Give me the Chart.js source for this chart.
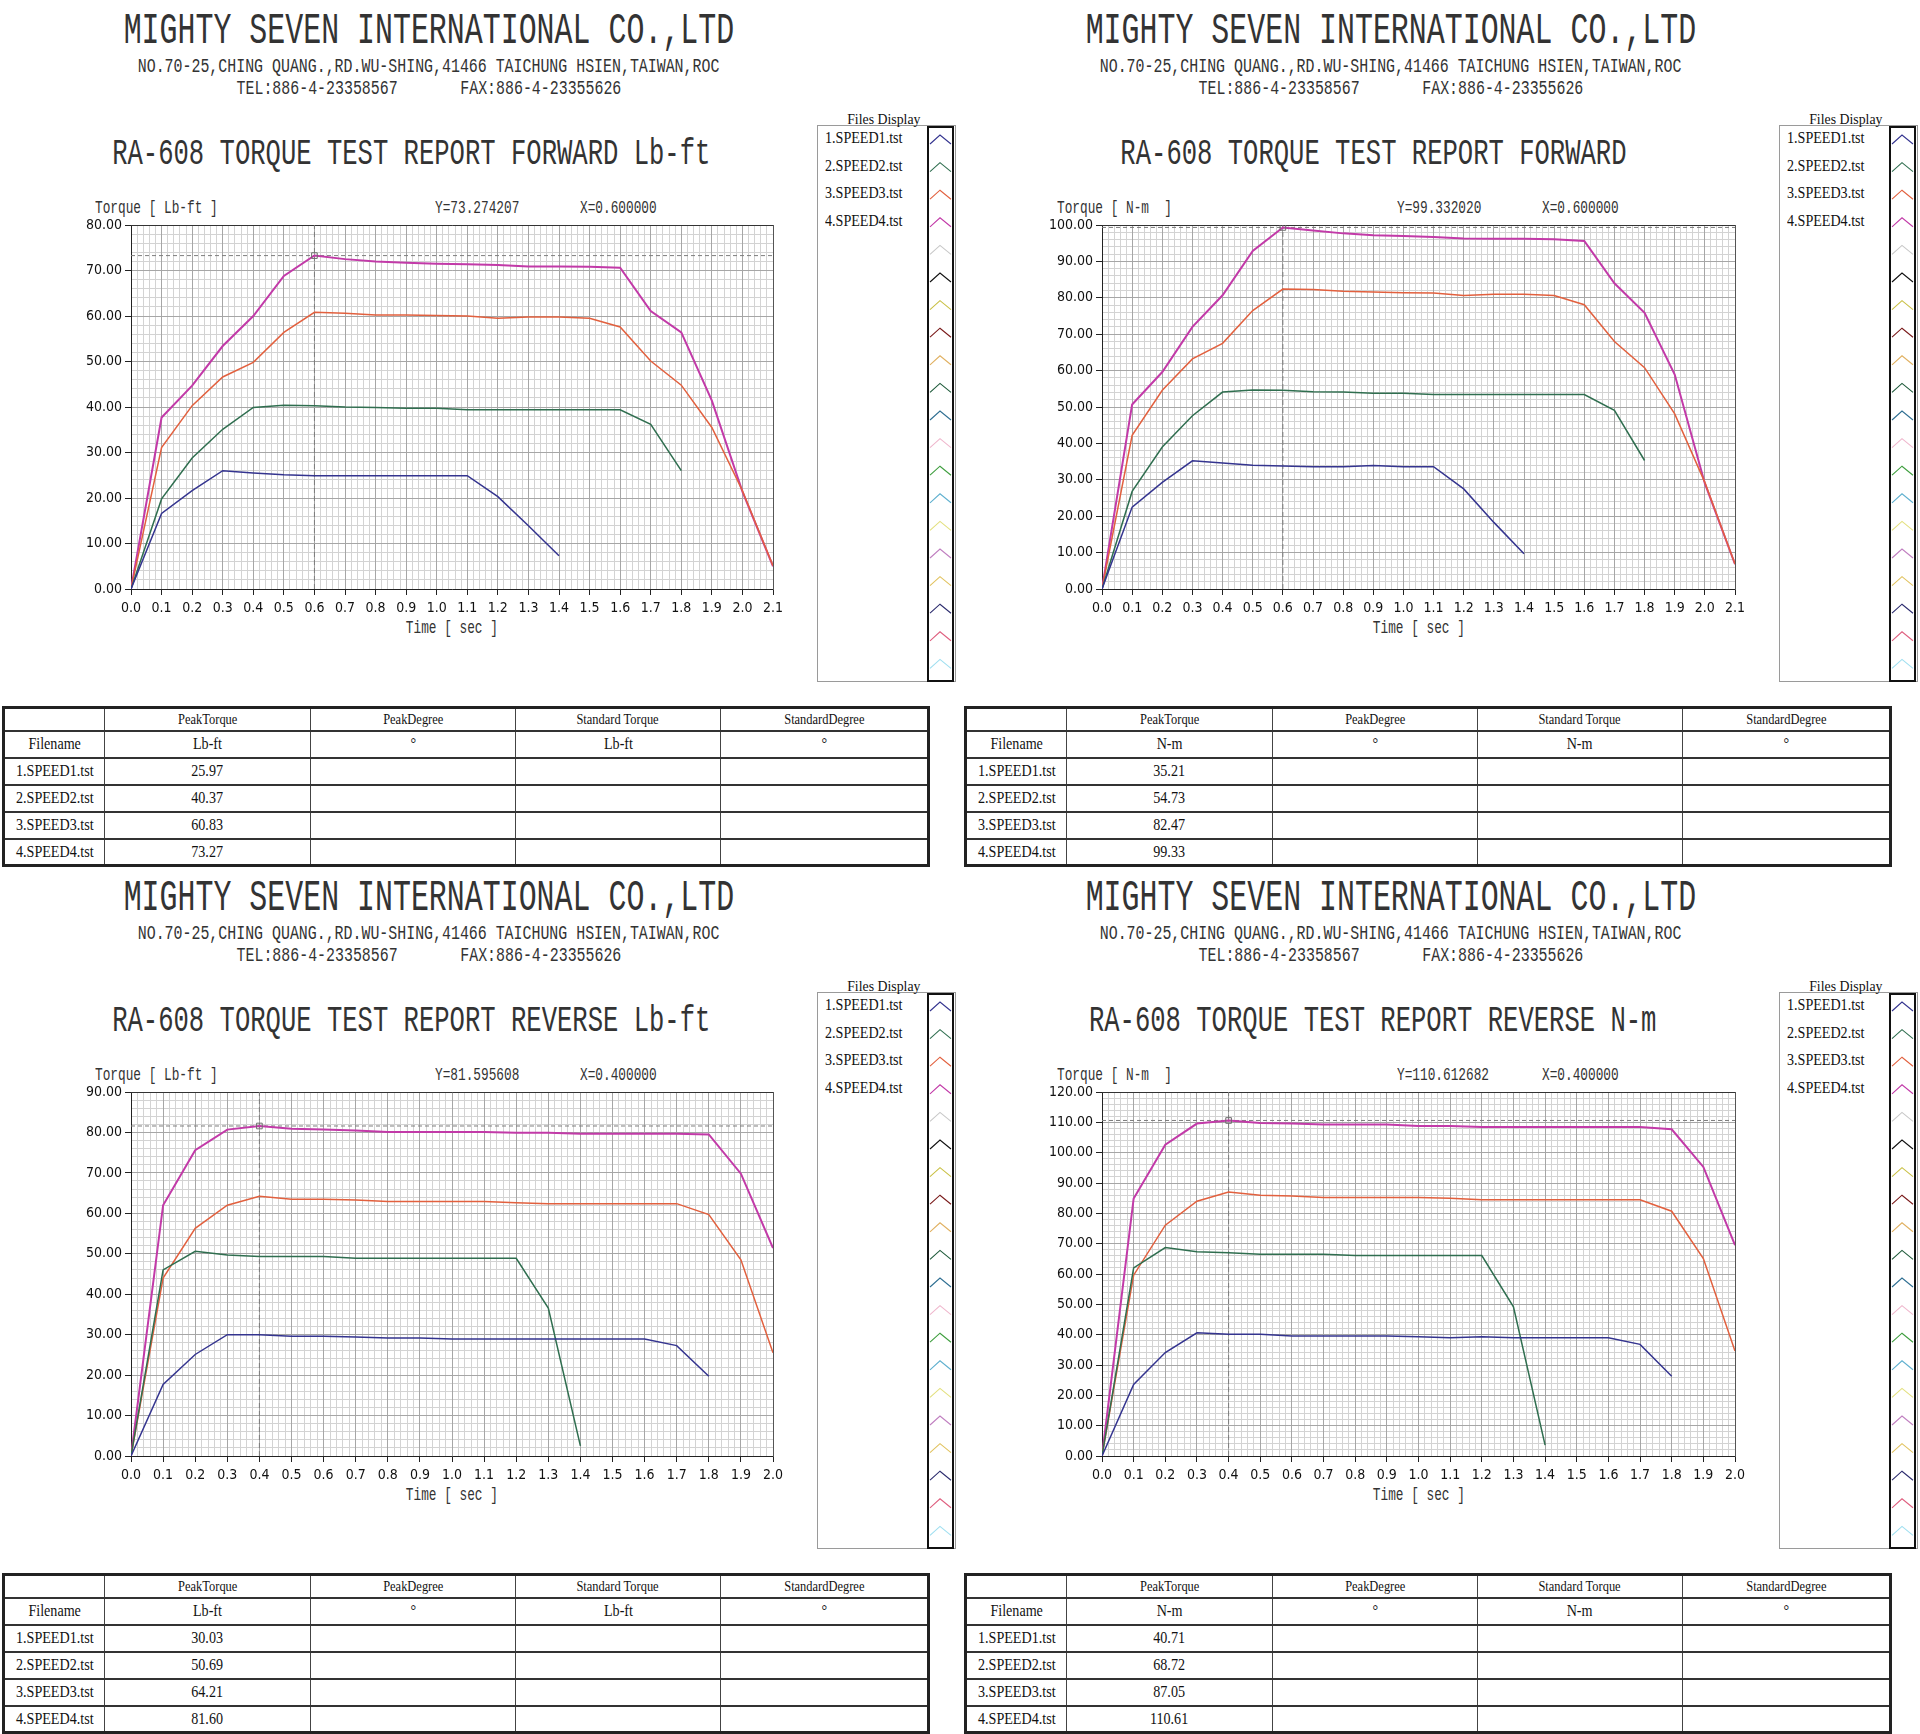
<!DOCTYPE html>
<html>
<head>
<meta charset="utf-8">
<script src="https://cdn.jsdelivr.net/npm/chart.js@4.4.1/dist/chart.umd.min.js"></script>
<style>
body { margin: 0; background: #fff; }
#page { position: relative; width: 1920px; height: 1734px; overflow: hidden; background: #fff; }
.panel { position: absolute; width: 962px; height: 867px; }
.t { position: absolute; white-space: pre; color: #2a2a2a; line-height: 1; }
.t span { display: inline-block; }
.mono { font-family: 'Liberation Mono', 'DejaVu Sans Mono', monospace; color: #333; }
.serif { font-family: 'Liberation Serif', 'DejaVu Serif', serif; color: #111; }
canvas { position: absolute; }
.legend { position: absolute; border: 1px solid #9a9a9a; background: #fff; }
.legcol { position: absolute; border: 2px solid #111; }
table { position: absolute; border-collapse: collapse; border: 3px solid #222; table-layout: fixed; }
td { border-left: 1px solid #444; border-right: 1px solid #444; border-top: 2px solid #333; border-bottom: 2px solid #333;
     padding: 0; text-align: center; font-family: 'Liberation Serif', serif; font-size: 17px; color: #111; overflow: hidden; }
td span { display: inline-block; transform: scaleX(0.83); }
</style>
</head>
<body>
<div id="page"></div>
<script>
// time axis (sec)
const fwdTime = [0.0, 0.1, 0.2, 0.3, 0.4, 0.5, 0.6, 0.7, 0.8, 0.9, 1.0, 1.1, 1.2, 1.3, 1.4, 1.5, 1.6, 1.7, 1.8, 1.9, 2.0, 2.1];
const revTime = [0.0, 0.1, 0.2, 0.3, 0.4, 0.5, 0.6, 0.7, 0.8, 0.9, 1.0, 1.1, 1.2, 1.3, 1.4, 1.5, 1.6, 1.7, 1.8, 1.9, 2.0];

// forward, Lb-ft
const fwdLbSpeed1 = [0, 16.6, 21.6, 26.0, 25.5, 25.1, 24.9, 24.9, 24.9, 24.9, 24.9, 24.9, 20.3, 13.9, 7.3];
const fwdLbSpeed2 = [0, 19.8, 28.8, 35.1, 39.9, 40.4, 40.3, 40.0, 39.9, 39.7, 39.7, 39.4, 39.4, 39.4, 39.4, 39.4, 39.4, 36.2, 26.0];
const fwdLbSpeed3 = [0, 31.1, 40.3, 46.6, 49.8, 56.4, 60.8, 60.6, 60.2, 60.2, 60.1, 60.0, 59.5, 59.8, 59.8, 59.5, 57.6, 50.1, 44.8, 35.5, 21.6, 5.1];
const fwdLbSpeed4 = [0, 37.7, 44.7, 53.4, 60.0, 68.8, 73.3, 72.5, 72.0, 71.7, 71.5, 71.4, 71.2, 70.9, 70.9, 70.8, 70.6, 61.1, 56.4, 41.4, 21.4, 5.0];

// forward, N-m
const fwdNmSpeed1 = [0, 22.5, 29.3, 35.2, 34.6, 34.0, 33.8, 33.6, 33.6, 33.9, 33.6, 33.6, 27.5, 18.3, 9.7];
const fwdNmSpeed2 = [0, 26.8, 39.0, 47.6, 54.1, 54.7, 54.6, 54.2, 54.1, 53.8, 53.8, 53.4, 53.4, 53.4, 53.4, 53.4, 53.4, 49.1, 35.3];
const fwdNmSpeed3 = [0, 42.2, 54.6, 63.2, 67.5, 76.5, 82.4, 82.3, 81.8, 81.6, 81.4, 81.3, 80.6, 81.0, 81.0, 80.6, 78.1, 68.0, 60.8, 48.1, 29.3, 6.9];
const fwdNmSpeed4 = [0, 50.7, 59.6, 72.0, 80.7, 92.9, 99.3, 98.5, 97.7, 97.2, 97.0, 96.7, 96.3, 96.2, 96.2, 96.1, 95.6, 84.0, 75.9, 58.9, 29.0, 6.8];

// reverse, Lb-ft
const revLbSpeed1 = [0, 17.7, 25.1, 30.0, 30.0, 29.6, 29.6, 29.4, 29.2, 29.2, 28.9, 28.9, 28.9, 28.9, 28.9, 28.9, 28.9, 27.3, 19.7];
const revLbSpeed2 = [0, 46.0, 50.6, 49.7, 49.3, 49.3, 49.3, 48.9, 48.9, 48.9, 48.9, 48.9, 48.9, 36.6, 2.5];
const revLbSpeed3 = [0, 44.0, 56.3, 62.0, 64.2, 63.5, 63.5, 63.3, 62.9, 62.9, 62.9, 62.9, 62.6, 62.4, 62.4, 62.4, 62.4, 62.4, 59.7, 48.5, 25.5];
const revLbSpeed4 = [0, 62.0, 75.6, 80.7, 81.6, 80.9, 80.7, 80.5, 80.1, 80.1, 80.1, 80.1, 79.9, 79.9, 79.7, 79.7, 79.7, 79.7, 79.5, 69.8, 51.4];

// reverse, N-m
const revNmSpeed1 = [0, 23.6, 34.1, 40.6, 40.1, 40.1, 39.6, 39.6, 39.6, 39.6, 39.3, 39.0, 39.3, 39.0, 39.0, 39.0, 39.0, 36.8, 26.3];
const revNmSpeed2 = [0, 62.0, 68.7, 67.3, 67.0, 66.5, 66.5, 66.5, 66.1, 66.1, 66.1, 66.1, 66.1, 49.2, 3.6];
const revNmSpeed3 = [0, 59.6, 76.1, 84.0, 87.0, 86.0, 85.7, 85.2, 85.2, 85.2, 85.2, 85.0, 84.5, 84.5, 84.5, 84.5, 84.5, 84.5, 80.7, 65.1, 34.6];
const revNmSpeed4 = [0, 84.9, 102.6, 109.6, 110.6, 109.8, 109.6, 109.3, 109.3, 109.3, 108.8, 108.8, 108.5, 108.5, 108.5, 108.5, 108.5, 108.5, 107.7, 95.3, 69.5];

// peak torque table values
const fwdLbPeak = [25.97, 40.37, 60.83, 73.27];
const fwdNmPeak = [35.21, 54.73, 82.47, 99.33];
const revLbPeak = [30.03, 50.69, 64.21, 81.60];
const revNmPeak = [40.71, 68.72, 87.05, 110.61];

// cursor readout [Y, X]
const fwdLbCursor = [73.274207, 0.6];
const fwdNmCursor = [99.332020, 0.6];
const revLbCursor = [81.595608, 0.4];
const revNmCursor = [110.612682, 0.4];

const fileNames = ['1.SPEED1.tst', '2.SPEED2.tst', '3.SPEED3.tst', '4.SPEED4.tst'];
const tableHead = ['', 'PeakTorque', 'PeakDegree', 'Standard Torque', 'StandardDegree'];

const seriesColors = ['#34348f', '#2f6e4f', '#e2603e', '#c23aa8'];
const legendColors = ['#34348f', '#2f6e4f', '#e2603e', '#c23aa8', '#c8c8c8', '#111111', '#c9c044', '#7a1a1a',
    '#e0b060', '#1e5a3a', '#2f6f92', '#efb6cc', '#3e9e3e', '#5fb0cf', '#e3e07e', '#c07fc0',
    '#e1c25e', '#2c2c6e', '#df5f7f', '#9fdff0'];

const panels = [
    { ox: 0, oy: 0, title: 'RA-608 TORQUE TEST REPORT FORWARD Lb-ft', unit: 'Lb-ft', axisLabel: 'Torque [ Lb-ft ]',
      time: fwdTime, series: [fwdLbSpeed1, fwdLbSpeed2, fwdLbSpeed3, fwdLbSpeed4], yMax: 80, cursor: fwdLbCursor, peaks: fwdLbPeak, plotLeft: 131 },
    { ox: 962, oy: 0, title: 'RA-608 TORQUE TEST REPORT FORWARD', unit: 'N-m', axisLabel: 'Torque [ N-m  ]',
      time: fwdTime, series: [fwdNmSpeed1, fwdNmSpeed2, fwdNmSpeed3, fwdNmSpeed4], yMax: 100, cursor: fwdNmCursor, peaks: fwdNmPeak, plotLeft: 140 },
    { ox: 0, oy: 867, title: 'RA-608 TORQUE TEST REPORT REVERSE Lb-ft', unit: 'Lb-ft', axisLabel: 'Torque [ Lb-ft ]',
      time: revTime, series: [revLbSpeed1, revLbSpeed2, revLbSpeed3, revLbSpeed4], yMax: 90, cursor: revLbCursor, peaks: revLbPeak, plotLeft: 131 },
    { ox: 962, oy: 867, title: 'RA-608 TORQUE TEST REPORT REVERSE N-m', unit: 'N-m', axisLabel: 'Torque [ N-m  ]',
      time: revTime, series: [revNmSpeed1, revNmSpeed2, revNmSpeed3, revNmSpeed4], yMax: 120, cursor: revNmCursor, peaks: revNmPeak, plotLeft: 140 }
];

const AX_W = 80, AX_H = 40, PAD_T = 12, PAD_R = 20;
const PLOT_R = 773, PLOT_T = 225, PLOT_B = 589;
const tickFont = { family: "'DejaVu Sans Condensed', 'Liberation Sans Narrow', 'Liberation Mono', sans-serif", size: 14 };

function addText(parent, txt, x, y, size, sx, cls, align) {
    const d = document.createElement('div');
    d.className = 't ' + cls;
    d.style.fontSize = size + 'px';
    d.style.top = (y - size * 0.44) + 'px';
    const s = document.createElement('span');
    s.textContent = txt;
    s.style.transform = 'scaleX(' + sx + ')';
    if (align === 'center') {
        d.style.left = (x - 500) + 'px';
        d.style.width = '1000px';
        d.style.textAlign = 'center';
        s.style.transformOrigin = 'center';
    } else {
        d.style.left = x + 'px';
        s.style.transformOrigin = 'left';
    }
    d.appendChild(s);
    parent.appendChild(d);
}

function buildChart(el, p) {
    const L = p.plotLeft;
    const w = PLOT_R - L + AX_W + PAD_R, h = PLOT_B - PLOT_T + PAD_T + AX_H;
    const c = document.createElement('canvas');
    c.width = w; c.height = h;
    c.style.left = (L - AX_W) + 'px';
    c.style.top = (PLOT_T - PAD_T) + 'px';
    c.style.width = w + 'px'; c.style.height = h + 'px';
    el.appendChild(c);

    const xMax = p.time[p.time.length - 1];
    const datasets = p.series.map((vals, i) => ({
        data: vals.map((v, j) => ({ x: p.time[j], y: v })),
        borderColor: seriesColors[i],
        borderWidth: i === 3 ? 2 : 1.5,
        pointRadius: 0, tension: 0, fill: false, order: 0
    }));
    // cursor crosshair and marker
    datasets.push({ data: [{ x: 0, y: p.cursor[0] }, { x: xMax, y: p.cursor[0] }],
        borderColor: '#7d7d7d', borderWidth: 1, borderDash: [4, 3], pointRadius: 0, order: 10 });
    datasets.push({ data: [{ x: p.cursor[1], y: 0 }, { x: p.cursor[1], y: p.yMax }],
        borderColor: '#7d7d7d', borderWidth: 1, borderDash: [5, 3], pointRadius: 0, order: 10 });
    datasets.push({ data: [{ x: p.cursor[1], y: p.cursor[0] }], showLine: false, pointStyle: 'rect',
        pointRadius: 4, pointBorderColor: '#6f6f6f', pointBackgroundColor: 'rgba(255,255,255,0)', pointBorderWidth: 1, order: -1 });

    new Chart(c, {
        type: 'line',
        data: { datasets: datasets },
        options: {
            responsive: false, animation: false, devicePixelRatio: 1,
            layout: { padding: { top: PAD_T, right: PAD_R, left: 0, bottom: 0 } },
            plugins: { legend: { display: false }, tooltip: { enabled: false } },
            scales: {
                x: {
                    type: 'linear', min: 0, max: xMax,
                    ticks: { stepSize: 0.1, autoSkip: false, maxRotation: 0, minRotation: 0, color: '#111', font: tickFont, padding: 5,
                        callback: v => v.toFixed(1) },
                    grid: { color: '#a6a6a6', tickColor: '#222', tickLength: 6 },
                    border: { color: '#222' },
                    afterFit: s => { s.height = AX_H; }
                },
                y: {
                    type: 'linear', min: 0, max: p.yMax,
                    ticks: { stepSize: 10, color: '#111', font: tickFont, padding: 3, callback: v => v.toFixed(2) },
                    grid: { color: '#a6a6a6', tickColor: '#222', tickLength: 6 },
                    border: { color: '#222' },
                    afterFit: s => { s.width = AX_W; }
                },
                xm: {
                    type: 'linear', position: 'top', min: 0, max: xMax,
                    ticks: { display: false, stepSize: 0.02 },
                    grid: { color: '#d3d3d3', drawTicks: false, z: -2 },
                    border: { color: '#333' },
                    afterFit: s => { s.height = 0; }
                },
                ym: {
                    type: 'linear', position: 'right', min: 0, max: p.yMax,
                    ticks: { display: false, stepSize: 2 },
                    grid: { color: '#d3d3d3', drawTicks: false, z: -2 },
                    border: { color: '#555' },
                    afterFit: s => { s.width = 0; }
                }
            }
        }
    });
}

function buildLegend(el) {
    const box = document.createElement('div');
    box.className = 'legend';
    Object.assign(box.style, { left: '817px', top: '125px', width: '137px', height: '555px' });
    el.appendChild(box);
    addText(el, 'Files Display', 884, 119, 15, 0.92, 'serif', 'center');
    fileNames.forEach((n, i) => addText(el, n, 825, 137 + 27.6 * i, 16, 0.88, 'serif', 'left'));

    const col = document.createElement('div');
    col.className = 'legcol';
    Object.assign(col.style, { left: '927px', top: '126px', width: '23px', height: '552px' });
    let svg = '<svg width="23" height="552" xmlns="http://www.w3.org/2000/svg">';
    legendColors.forEach((clr, i) => {
        const cy = 11 + 27.6 * i;
        svg += '<polyline points="1,' + (cy + 5) + ' 11,' + (cy - 4) + ' 22,' + (cy + 5) + '" fill="none" stroke="' + clr + '" stroke-width="1.1"/>';
    });
    svg += '</svg>';
    col.innerHTML = svg;
    el.appendChild(col);
}

function buildTable(el, p) {
    const tbl = document.createElement('table');
    Object.assign(tbl.style, { left: '2px', top: '706px', width: '925px' });
    const widths = [101, 206, 205, 205, 208];
    const cg = document.createElement('colgroup');
    widths.forEach(w => { const col = document.createElement('col'); col.style.width = w + 'px'; cg.appendChild(col); });
    tbl.appendChild(cg);
    const rows = [tableHead, ['Filename', p.unit, '\u00b0', p.unit, '\u00b0']];
    p.peaks.forEach((v, i) => rows.push([fileNames[i], v.toFixed(2), '', '', '']));
    const heights = [23, 27, 27, 27, 27, 27];
    rows.forEach((r, ri) => {
        const tr = document.createElement('tr');
        tr.style.height = heights[ri] + 'px';
        r.forEach(txt => {
            const td = document.createElement('td');
            const s = document.createElement('span');
            s.textContent = txt;
            if (ri === 0) s.style.fontSize = '15px';
            td.appendChild(s);
            tr.appendChild(td);
        });
        tbl.appendChild(tr);
    });
    el.appendChild(tbl);
}

const page = document.getElementById('page');
panels.forEach(p => {
    const el = document.createElement('div');
    el.className = 'panel';
    el.style.left = p.ox + 'px';
    el.style.top = p.oy + 'px';
    page.appendChild(el);

    addText(el, 'MIGHTY SEVEN INTERNATIONAL CO.,LTD', 429, 28, 44, 0.68, 'mono', 'center');
    addText(el, 'NO.70-25,CHING QUANG.,RD.WU-SHING,41466 TAICHUNG HSIEN,TAIWAN,ROC', 429, 65, 21, 0.71, 'mono', 'center');
    addText(el, 'TEL:886-4-23358567       FAX:886-4-23355626', 429, 87, 21, 0.71, 'mono', 'center');
    addText(el, p.title, 411, 153, 36, 0.71, 'mono', 'center');

    addText(el, p.axisLabel, 95, 207, 18, 0.71, 'mono', 'left');
    addText(el, 'Y=' + p.cursor[0].toFixed(6), 435, 207, 18, 0.71, 'mono', 'left');
    addText(el, 'X=' + p.cursor[1].toFixed(6), 580, 207, 18, 0.71, 'mono', 'left');
    addText(el, 'Time [ sec ]', (p.plotLeft + PLOT_R) / 2, 627, 18, 0.71, 'mono', 'center');

    buildChart(el, p);
    buildLegend(el);
    buildTable(el, p);
});
</script>
</body>
</html>
